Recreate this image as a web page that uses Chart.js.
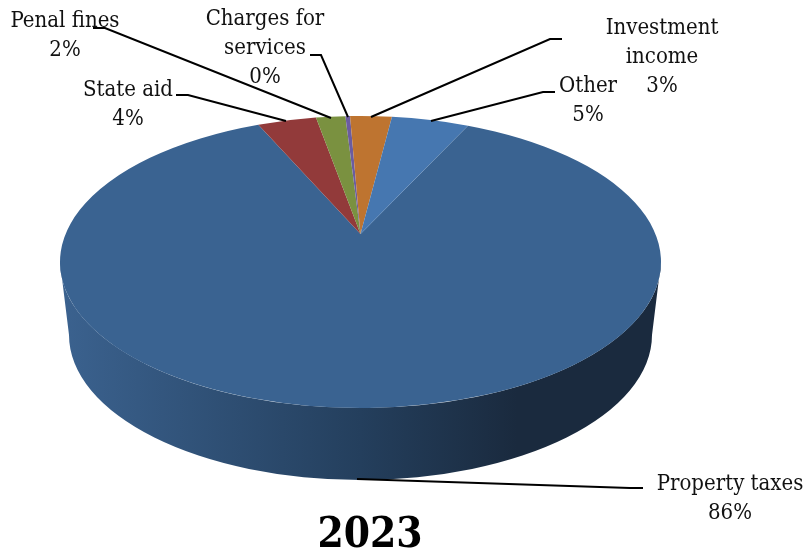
<!DOCTYPE html>
<html>
<head>
<meta charset="utf-8">
<title>2023</title>
<script src="https://cdn.jsdelivr.net/npm/chart.js@4"></script>
<style>
  html, body { margin: 0; padding: 0; background: #fff; }
  canvas { display: block; }
</style>
</head>
<body>
<canvas id="pie" width="810" height="558"></canvas>
<script>
const categories = ['Property taxes', 'State aid', 'Penal fines', 'Charges for services', 'Investment income', 'Other'];
const shares = [86.3, 3.8, 1.9, 0.3, 2.7, 5.0];
const sliceColors = ['#3a6391', '#923a3a', '#7a9140', '#6b5ca0', '#be7430', '#4677b0'];
const yearTitle = '2023';

// wrapped label lines, index follows categories
const labelLines = [['Property taxes'], ['State aid'], ['Penal fines'], ['Charges for', 'services'], ['Investment', 'income'], ['Other']];

const labelFont = '22px "DejaVu Serif Condensed"';

// top face is a circle seen in perspective, so the hub sits above the ellipse centre
const top3d = { cx: 360.5, cy: 262, a: 300.5, b: 146, hubShift: 28 };
const base3d = { cy: 335, a: 291.5, b: 145 };

function faceAngle(phi) {
  const g = top3d.hubShift / top3d.b;
  const k = Math.sqrt(1 - g * g);
  const u = Math.cos(phi), v = -Math.sin(phi);
  const w = 1 + g * v;
  return Math.atan2(-(v + g) / w, k * u / w);
}

const pie3d = {
  id: 'pie3d',
  beforeDatasetDraw(chart) {
    const ctx = chart.ctx;
    const { cx, cy, a, b, hubShift } = top3d;

    // side wall
    const grad = ctx.createLinearGradient(cx - a, 0, cx + a, 0);
    grad.addColorStop(0, '#3b628f');
    grad.addColorStop(0.5, '#243f5d');
    grad.addColorStop(0.76, '#1a2a3e');
    grad.addColorStop(1, '#1a2a3e');
    ctx.save();
    ctx.fillStyle = grad;
    ctx.beginPath();
    ctx.ellipse(cx, cy, a, b, 0, 0, Math.PI, false);
    ctx.lineTo(cx - base3d.a, base3d.cy);
    ctx.ellipse(cx, base3d.cy, base3d.a, base3d.b, 0, Math.PI, 0, true);
    ctx.closePath();
    ctx.fill();

    // top face from the arc angles chart.js worked out
    chart.getDatasetMeta(0).data.forEach((arc, i) => {
      ctx.fillStyle = sliceColors[i];
      ctx.beginPath();
      ctx.moveTo(cx, cy - hubShift);
      ctx.ellipse(cx, cy, a, b, 0, faceAngle(arc.startAngle), faceAngle(arc.endAngle), false);
      ctx.closePath();
      ctx.fill();
    });
    ctx.restore();
    return false;
  }
};

const sliceLabels = {
  id: 'sliceLabels',
  afterDraw(chart) {
    const ctx = chart.ctx;
    const spots = [
      { x: 730, y: 490, line: [[643, 488], [630, 488], [357, 479]] },
      { x: 128, y: 96, line: [[176, 95], [188, 95], [286, 121]] },
      { x: 65, y: 27, line: [[93, 28], [105, 28], [331, 118]] },
      { x: 265, y: 25, line: [[310, 55], [321, 55], [348, 117]] },
      { x: 662, y: 34, line: [[562, 39], [550, 39], [371, 117]] },
      { x: 588, y: 92, line: [[555, 92], [543, 92], [431, 121]] }
    ];
    ctx.save();
    ctx.font = labelFont;
    ctx.fillStyle = '#111';
    ctx.textAlign = 'center';
    ctx.textBaseline = 'alphabetic';
    ctx.strokeStyle = '#000';
    ctx.lineWidth = 2;
    spots.forEach((s, i) => {
      const rows = labelLines[i].concat(Math.round(shares[i]) + '%');
      rows.forEach((t, r) => ctx.fillText(t, s.x, s.y + r * 29));
      ctx.beginPath();
      s.line.forEach((p, n) => n ? ctx.lineTo(p[0], p[1]) : ctx.moveTo(p[0], p[1]));
      ctx.stroke();
    });
    ctx.restore();
  }
};

new Chart(document.getElementById('pie'), {
  type: 'pie',
  data: {
    labels: categories,
    datasets: [{ data: shares, backgroundColor: sliceColors, borderWidth: 0 }]
  },
  options: {
    responsive: false,
    animation: false,
    rotation: 25.3,
    layout: { padding: { right: 70, bottom: 0 } },
    plugins: {
      legend: { display: false },
      tooltip: { enabled: false },
      title: {
        display: true,
        text: yearTitle,
        position: 'bottom',
        color: '#000',
        font: { family: '"DejaVu Serif Condensed"', size: 42, weight: 'bold', lineHeight: 1 },
        padding: { top: 0, bottom: 1 }
      }
    }
  },
  plugins: [pie3d, sliceLabels]
});
</script>
</body>
</html>
